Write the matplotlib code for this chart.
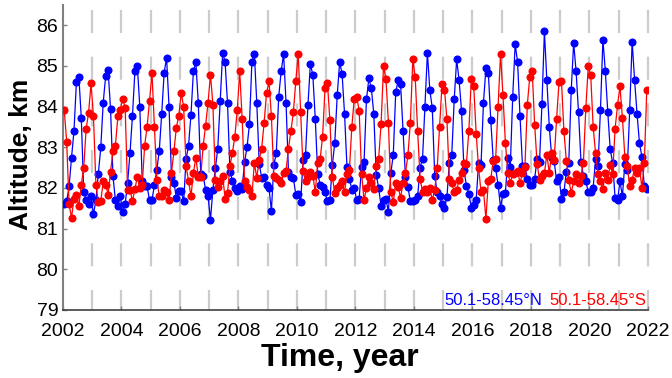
import matplotlib
matplotlib.use('Agg')
import matplotlib.pyplot as plt
import numpy as np

plt.rcParams['font.family'] = ['Liberation Sans', 'DejaVu Sans']
plt.rcParams['lines.scale_dashes'] = False

years = list(range(2002, 2022))
months = list(range(1, 13))

# 50.1-58.45°N (blue), monthly, Jan..Dec per row
north = [
    81.60, 81.67, 82.04, 82.75, 83.40, 84.60, 84.74, 83.73, 81.90, 81.70, 81.60, 81.80,
    81.35, 81.70, 82.35, 83.00, 84.10, 84.75, 84.90, 83.95, 82.30, 81.70, 81.55, 81.80,
    81.40, 81.60, 82.13, 82.87, 83.78, 84.87, 85.00, 84.00, 82.18, 82.04, 82.04, 81.70,
    81.70, 82.08, 82.45, 82.92, 83.83, 84.84, 85.20, 84.00, 82.28, 82.13, 81.76, 81.93,
    81.93, 81.67, 82.72, 83.04, 83.80, 84.87, 85.10, 84.10, 82.35, 82.30, 81.96, 81.80,
    81.22, 81.96, 82.48, 82.97, 84.13, 85.33, 85.10, 84.08, 82.40, 82.18, 82.00, 81.93,
    82.04, 81.98, 82.65, 83.00, 83.58, 85.10, 85.30, 84.10, 82.60, 82.25, 82.28, 82.08,
    82.00, 81.44, 82.57, 82.85, 84.25, 84.87, 85.30, 84.10, 82.40, 82.28, 82.25, 81.84,
    81.86, 81.65, 82.70, 82.82, 84.05, 85.06, 84.77, 83.70, 82.35, 82.08, 82.03, 81.90,
    81.67, 81.70, 82.57, 83.11, 84.28, 85.10, 84.80, 83.83, 82.52, 82.23, 81.96, 82.00,
    81.70, 81.74, 82.52, 82.63, 84.18, 84.70, 84.45, 83.83, 82.33, 82.00, 81.55, 81.70,
    81.72, 81.42, 82.37, 82.82, 84.35, 84.65, 84.55, 83.40, 82.28, 82.03, 81.67, 81.67,
    81.70, 81.80, 82.50, 82.72, 84.00, 85.33, 84.40, 83.97, 82.30, 81.89, 81.80, 81.60,
    81.52, 81.77, 82.62, 82.82, 84.18, 85.16, 84.65, 83.90, 82.45, 82.06, 81.86, 81.52,
    81.57, 81.70, 82.62, 82.57, 84.10, 84.94, 84.84, 83.66, 82.70, 82.48, 82.08, 81.52,
    81.86, 81.88, 82.75, 82.52, 84.25, 85.53, 85.10, 83.76, 82.55, 82.55, 82.23, 82.08,
    82.08, 82.23, 82.72, 82.65, 84.07, 85.85, 84.65, 83.51, 82.75, 82.67, 82.16, 82.28,
    81.74, 81.89, 82.40, 82.62, 84.40, 85.57, 84.87, 83.86, 82.65, 82.30, 82.18, 81.89,
    81.89, 82.00, 82.72, 82.55, 83.93, 85.65, 84.87, 83.86, 82.95, 82.62, 81.76, 81.70,
    82.16, 81.80, 82.60, 82.45, 83.93, 85.60, 84.65, 83.83, 83.10, 82.77, 82.04, 81.98,
]

# 50.1-58.45°S (red), monthly, Jan..Dec per row
south = [
    83.93, 83.14, 81.60, 81.27, 81.74, 81.84, 81.55, 82.08, 82.50, 83.46, 83.85, 84.57,
    83.76, 82.08, 81.65, 81.67, 82.17, 82.08, 81.84, 82.40, 82.90, 83.04, 83.76, 83.93,
    84.20, 83.97, 81.94, 81.96, 81.67, 81.98, 82.28, 82.00, 82.08, 83.04, 83.51, 84.13,
    84.84, 83.51, 82.20, 81.80, 81.80, 81.96, 81.90, 81.70, 82.37, 82.90, 83.48, 83.78,
    84.33, 84.00, 82.53, 82.18, 81.80, 82.37, 82.75, 82.28, 82.28, 83.04, 83.53, 84.10,
    84.79, 84.05, 82.20, 82.03, 82.16, 82.30, 81.74, 81.88, 82.55, 82.87, 83.26, 83.93,
    84.87, 83.70, 82.16, 82.03, 81.94, 81.80, 82.62, 82.25, 82.70, 82.97, 83.60, 84.33,
    84.62, 83.76, 82.30, 82.25, 82.20, 82.13, 82.37, 82.42, 82.97, 83.40, 83.86, 84.62,
    85.30, 83.86, 82.42, 82.16, 82.28, 82.40, 82.30, 81.90, 82.62, 82.72, 83.26, 84.45,
    84.57, 83.66, 82.28, 81.88, 82.00, 82.08, 82.16, 81.90, 82.35, 82.45, 83.51, 84.20,
    84.25, 83.90, 82.35, 81.70, 82.00, 82.28, 82.13, 81.98, 82.55, 82.72, 83.58, 85.00,
    84.67, 83.61, 81.90, 81.65, 82.13, 82.03, 81.76, 82.13, 82.37, 82.80, 83.60, 85.16,
    84.72, 83.39, 82.23, 81.90, 81.98, 81.90, 82.00, 81.70, 81.96, 82.48, 83.51, 84.55,
    84.42, 83.70, 82.23, 82.13, 81.90, 81.94, 82.20, 82.37, 82.62, 82.60, 83.40, 84.67,
    84.50, 83.34, 82.50, 81.90, 81.94, 81.24, 82.18, 82.23, 82.67, 82.72, 84.00, 85.30,
    84.28, 83.11, 82.37, 82.13, 82.35, 82.37, 82.42, 82.13, 82.37, 82.52, 84.05, 84.74,
    84.87, 83.56, 82.60, 82.20, 82.30, 82.37, 82.82, 82.37, 82.85, 82.70, 83.70, 84.60,
    84.62, 83.40, 82.67, 82.20, 81.88, 82.16, 82.35, 82.13, 82.30, 82.62, 83.97, 85.00,
    84.77, 83.50, 82.85, 82.35, 82.16, 81.98, 82.37, 82.20, 82.57, 82.35, 83.46, 84.03,
    84.50, 83.73, 82.77, 82.55, 82.04, 82.20, 82.50, 82.37, 82.50, 82.00, 82.62, 84.42,
]

xticks = list(range(2002, 2023, 2))
yticks = list(range(79, 87))
grid_years = list(range(2003, 2023))
label_n = '50.1-58.45°N'
label_s = '50.1-58.45°S'

t = np.array([y + (m - 0.5) / 12.0 for y in years for m in months])

W, H = 672, 378
fig = plt.figure(figsize=(W / 100, H / 100), dpi=100)
L, R, B, T = 63, 648, 310, 5
ax = fig.add_axes([L / W, 1 - B / H, (R - L) / W, (B - T) / H])
ax.set_xlim(2002, 2022)
ax.set_ylim(79, 86.5)

for gy in grid_years:
    ax.plot([gy, gy], [86.5, 79], color='#cccccc', lw=1.6,
            linestyle=(30, (16.6, 17.0)), zorder=1, clip_on=False)

ax.plot(t, north, '-o', color='#0000ff', lw=0.9, ms=4.8, zorder=3)
ax.plot(t, south, '-o', color='#ff0000', lw=0.9, ms=4.8, zorder=3)

for s in ['top', 'right']:
    ax.spines[s].set_visible(False)
ax.spines['left'].set_color('#808080')
ax.spines['bottom'].set_color('#404040')
ax.spines['left'].set_linewidth(1.5)
ax.spines['bottom'].set_linewidth(1.2)

ax.set_xticks(xticks)
ax.set_yticks(yticks)
ax.tick_params(direction='in', length=3, width=1, colors='#808080',
               labelcolor='black', labelsize=14)
ax.tick_params(axis='x', pad=9.5)

ax.set_xlabel('Time, year', fontsize=23, fontweight='bold')
ax.xaxis.set_label_coords((340 - L) / (R - L), (B - 343) / (B - T))
ax.set_ylabel('Altitude, km', fontsize=19, fontweight='bold')
ax.yaxis.set_label_coords((33 - L) / (R - L), (B - 154) / (B - T))

ax.text(0.652, 0.03, label_n, color='#0000ff', fontsize=12,
        transform=ax.transAxes, ha='left', va='center', zorder=4)
ax.text(0.9966, 0.03, label_s, color='#ff0000', fontsize=12,
        transform=ax.transAxes, ha='right', va='center', zorder=4)

fig.savefig('out.png', dpi=100)
